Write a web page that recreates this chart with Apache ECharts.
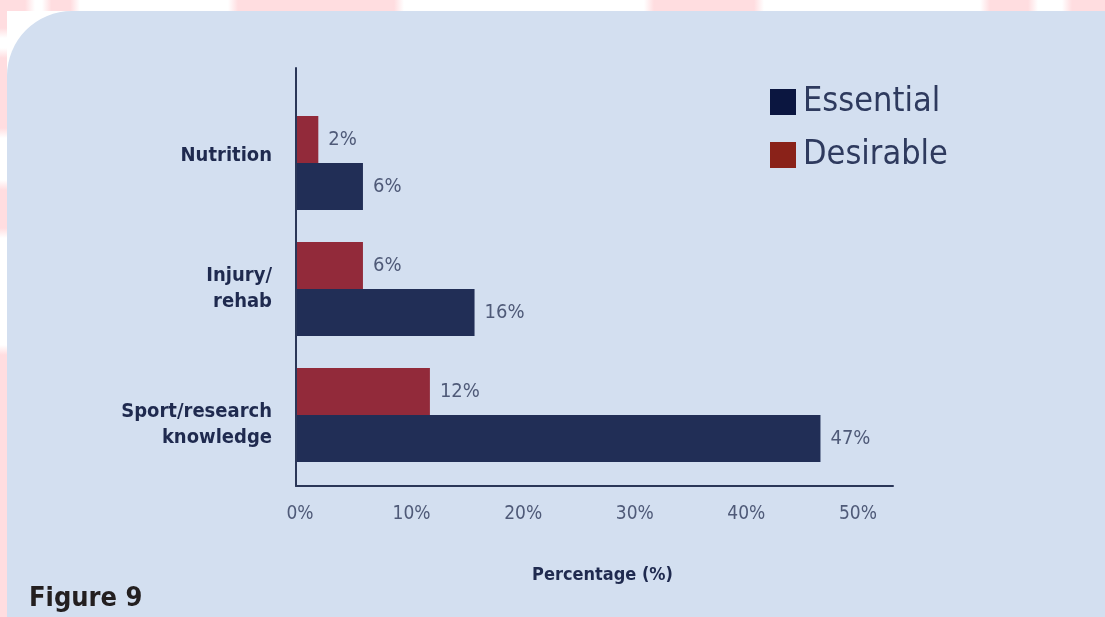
<!DOCTYPE html>
<html>
<head>
<meta charset="utf-8">
<script src="https://cdn.jsdelivr.net/npm/echarts@6/dist/echarts.min.js"></script>
<style>
  html, body { margin: 0; padding: 0; background: #ffffff; }
  #chart { width: 1105px; height: 617px; }
</style>
</head>
<body>
<div id="chart"></div>
<script>
// Skills rated by respondents, share of answers (%)
const categories = ['Nutrition', 'Injury/\nrehab', 'Sport/research\nknowledge'];
const essential = [6, 16, 47];
const desirable = [2, 6, 12];
const seriesNames = ['Essential', 'Desirable'];
const xTicks = [0, 10, 20, 30, 40, 50];

const FONT = "'DejaVu Sans Condensed', 'DejaVu Sans', sans-serif";
const NAVY_TEXT = '#1f2a4f';
const GREY_TEXT = '#4f5a78';
const AXIS_COLOR = '#2a3658';
const PINK = '255,221,224';

// soft pink band segment fading out at both ends
function band(x, y, w, h, horizontal) {
  const fade = Math.min(0.25, 10 / (horizontal ? w : h));
  return {
    type: 'rect',
    silent: true,
    z: 0,
    shape: { x: x, y: y, width: w, height: h },
    style: {
      fill: new echarts.graphic.LinearGradient(0, 0, horizontal ? 1 : 0, horizontal ? 0 : 1, [
        { offset: 0, color: 'rgba(' + PINK + ',0)' },
        { offset: fade, color: 'rgba(' + PINK + ',1)' },
        { offset: 1 - fade, color: 'rgba(' + PINK + ',1)' },
        { offset: 1, color: 'rgba(' + PINK + ',0)' }
      ])
    }
  };
}

// category label: optional spacer line above or below to nudge the text block
function categoryLabel(value, index) {
  const lines = value.split('\n').map(function (l) { return '{t|' + l + '}'; });
  if (index === 0) lines.push('{gapBelow| }');
  if (index === categories.length - 1) lines.unshift('{gapAbove| }');
  return lines.join('\n');
}

const xMax = 53.5;

const valueLabel = {
  show: true,
  position: 'right',
  distance: 10,
  fontFamily: FONT,
  fontSize: 20,
  color: GREY_TEXT,
  formatter: '{c}%'
};

const option = {
  backgroundColor: '#ffffff',
  animation: false,
  textStyle: { fontFamily: FONT },
  title: {
    text: 'Figure 9',
    left: 24,
    top: 580,
    z: 10,
    textStyle: { fontFamily: FONT, fontSize: 27, fontWeight: 'bold', color: '#231f20' }
  },
  graphic: {
    z: -10,
    elements: [
      band(-10, 0, 45, 11, true),
      band(42, 0, 38, 11, true),
      band(228, 0, 176, 11, true),
      band(644, 0, 120, 11, true),
      band(980, 0, 58, 11, true),
      band(1062, 0, 60, 11, true),
      band(0, -10, 7, 48, false),
      band(0, 48, 7, 90, false),
      band(0, 180, 7, 58, false),
      band(0, 345, 7, 290, false),
      {
        type: 'rect',
        silent: true,
        z: 1,
        shape: { x: 7, y: 11, width: 1110, height: 620, r: [65, 0, 0, 0] },
        style: { fill: '#d3dff0' }
      }
    ]
  },
  legend: {
    orient: 'vertical',
    left: 765,
    top: 80,
    z: 10,
    itemWidth: 26,
    itemHeight: 26,
    itemGap: 19,
    icon: 'rect',
    selectedMode: false,
    textStyle: { fontFamily: FONT, fontSize: 34, lineHeight: 34, color: '#2e3a5e', padding: [0, 0, 0, 2] },
    data: [
      { name: seriesNames[0], itemStyle: { color: '#0b1640' } },
      { name: seriesNames[1], itemStyle: { color: '#8a2219' } }
    ]
  },
  grid: [
    // frame with the axis lines and the percentage scale
    { left: 296, right: 212, top: 68, bottom: 131 },
    // bar area
    { left: 296, right: 212, top: 100, bottom: 139 }
  ],
  xAxis: [
    {
      gridIndex: 0,
      type: 'value',
      z: 10,
      min: 0,
      max: xMax,
      interval: 10,
      name: 'Percentage (%)',
      nameLocation: 'middle',
      nameGap: 80,
      nameTextStyle: { fontFamily: FONT, fontSize: 18, fontWeight: 'bold', color: NAVY_TEXT, padding: [0, 0, 0, 16] },
      axisLine: { show: true, lineStyle: { color: AXIS_COLOR, width: 2 } },
      axisTick: { show: false },
      splitLine: { show: false },
      axisLabel: {
        showMaxLabel: false,
        margin: 19,
        fontFamily: FONT,
        fontSize: 19,
        color: GREY_TEXT,
        padding: [0, 0, 0, 8],
        formatter: function (v) { return xTicks.indexOf(v) >= 0 ? v + '%' : ''; }
      }
    },
    {
      gridIndex: 1,
      type: 'value',
      min: 0,
      max: xMax,
      show: false
    }
  ],
  yAxis: [
    {
      gridIndex: 0,
      type: 'category',
      z: 10,
      data: categories,
      axisLine: { show: true, lineStyle: { color: AXIS_COLOR, width: 2 } },
      axisTick: { show: false },
      axisLabel: { show: false },
      splitLine: { show: false }
    },
    {
      gridIndex: 1,
      type: 'category',
      z: 10,
      inverse: true,
      data: categories,
      axisLine: { show: false },
      axisTick: { show: false },
      splitLine: { show: false },
      axisLabel: {
        margin: 24,
        align: 'right',
        formatter: categoryLabel,
        rich: {
          t: { fontFamily: FONT, fontSize: 20, lineHeight: 26, fontWeight: 'bold', color: NAVY_TEXT, align: 'right' },
          gapBelow: { fontSize: 10, lineHeight: 15, height: 15 },
          gapAbove: { fontSize: 10, lineHeight: 20, height: 20 }
        }
      }
    }
  ],
  series: [
    {
      name: seriesNames[1],
      type: 'bar',
      xAxisIndex: 1,
      yAxisIndex: 1,
      data: desirable,
      barWidth: 47,
      barGap: '0%',
      z: 3,
      itemStyle: { color: '#922a3a' },
      label: valueLabel
    },
    {
      name: seriesNames[0],
      type: 'bar',
      xAxisIndex: 1,
      yAxisIndex: 1,
      data: essential,
      barWidth: 47,
      barGap: '0%',
      z: 3,
      itemStyle: { color: '#212e56' },
      label: valueLabel
    }
  ]
};

const chart = echarts.init(document.getElementById('chart'), null, { renderer: 'canvas' });
chart.setOption(option);
</script>
</body>
</html>
